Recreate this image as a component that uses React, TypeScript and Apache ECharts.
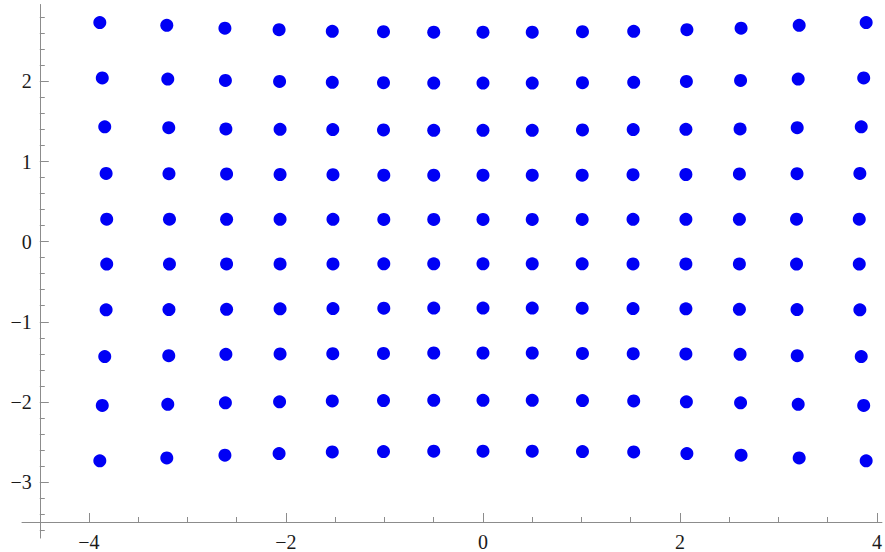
import { useEffect, useRef } from "react";
import * as echarts from "echarts";

// Axis extents (as seen in the picture)
const xRange = [-4.68, 4.05];
const yRange = [-3.7, 2.96];

// Tick values
const xTickMajor = [-4, -2, 0, 2, 4];
const xTickMinor = [-3.5, -3, -2.5, -1.5, -1, -0.5, 0.5, 1, 1.5, 2.5, 3, 3.5];
const yTickMajor = [-3, -2, -1, 0, 1, 2];
const yTickMinor = [
  -3.6, -3.4, -3.2, -2.8, -2.6, -2.4, -2.2, -1.8, -1.6, -1.4, -1.2, -0.8, -0.6,
  -0.4, -0.2, 0.2, 0.4, 0.6, 0.8, 1.2, 1.4, 1.6, 1.8, 2.2, 2.4, 2.6, 2.8,
];

// Point grid, read row by row (top to bottom), columns left to right
const xRow1 = [-3.89, -3.21, -2.62, -2.07, -1.53, -1.01, -0.5, 0, 0.5, 1.01, 1.53, 2.07, 2.62, 3.21, 3.89];
const xRow2 = [-3.865, -3.2, -2.615, -2.065, -1.53, -1.01, -0.5, 0, 0.5, 1.01, 1.53, 2.065, 2.615, 3.2, 3.865];
const xRow3 = [-3.84, -3.19, -2.61, -2.06, -1.525, -1.01, -0.5, 0, 0.5, 1.01, 1.525, 2.06, 2.61, 3.19, 3.84];
const xRow4 = [-3.826, -3.188, -2.603, -2.06, -1.523, -1.007, -0.5, 0, 0.5, 1.007, 1.523, 2.06, 2.603, 3.188, 3.826];
const xRow5 = [-3.82, -3.183, -2.603, -2.06, -1.523, -1.007, -0.5, 0, 0.5, 1.007, 1.523, 2.06, 2.603, 3.183, 3.82];
const xRow6 = [-3.82, -3.183, -2.603, -2.06, -1.523, -1.007, -0.5, 0, 0.5, 1.007, 1.523, 2.06, 2.603, 3.183, 3.82];
const xRow7 = [-3.826, -3.188, -2.603, -2.06, -1.523, -1.007, -0.5, 0, 0.5, 1.007, 1.523, 2.06, 2.603, 3.188, 3.826];
const xRow8 = [-3.84, -3.19, -2.61, -2.06, -1.525, -1.01, -0.5, 0, 0.5, 1.01, 1.525, 2.06, 2.61, 3.19, 3.84];
const xRow9 = [-3.865, -3.2, -2.615, -2.065, -1.53, -1.01, -0.5, 0, 0.5, 1.01, 1.53, 2.065, 2.615, 3.2, 3.865];
const xRow10 = [-3.89, -3.21, -2.62, -2.07, -1.53, -1.01, -0.5, 0, 0.5, 1.01, 1.53, 2.07, 2.62, 3.21, 3.89];

const yRow1 = [2.735, 2.7, 2.665, 2.645, 2.625, 2.62, 2.615, 2.615, 2.615, 2.62, 2.625, 2.645, 2.665, 2.7, 2.735];
const yRow2 = [2.044, 2.03, 2.012, 2.0, 1.988, 1.984, 1.98, 1.98, 1.98, 1.984, 1.988, 2.0, 2.012, 2.03, 2.044];
const yRow3 = [1.434, 1.423, 1.407, 1.402, 1.399, 1.395, 1.39, 1.39, 1.39, 1.395, 1.399, 1.402, 1.407, 1.423, 1.434];
const yRow4 = [0.851, 0.848, 0.845, 0.838, 0.835, 0.83, 0.829, 0.829, 0.829, 0.83, 0.835, 0.838, 0.845, 0.848, 0.851];
const yRow5 = [0.28, 0.28, 0.279, 0.278, 0.278, 0.277, 0.277, 0.277, 0.277, 0.277, 0.278, 0.278, 0.279, 0.28, 0.28];
const yRow6 = [-0.28, -0.28, -0.279, -0.278, -0.278, -0.277, -0.277, -0.277, -0.277, -0.277, -0.278, -0.278, -0.279, -0.28, -0.28];
const yRow7 = [-0.851, -0.848, -0.845, -0.838, -0.835, -0.83, -0.829, -0.829, -0.829, -0.83, -0.835, -0.838, -0.845, -0.848, -0.851];
const yRow8 = [-1.434, -1.423, -1.407, -1.402, -1.399, -1.395, -1.39, -1.39, -1.39, -1.395, -1.399, -1.402, -1.407, -1.423, -1.434];
const yRow9 = [-2.044, -2.03, -2.012, -2.0, -1.988, -1.984, -1.98, -1.98, -1.98, -1.984, -1.988, -2.0, -2.012, -2.03, -2.044];
const yRow10 = [-2.735, -2.7, -2.665, -2.645, -2.625, -2.62, -2.615, -2.615, -2.615, -2.62, -2.625, -2.645, -2.665, -2.7, -2.735];

const xRows = [xRow1, xRow2, xRow3, xRow4, xRow5, xRow6, xRow7, xRow8, xRow9, xRow10];
const yRows = [yRow1, yRow2, yRow3, yRow4, yRow5, yRow6, yRow7, yRow8, yRow9, yRow10];

const AXIS_COLOR = "#8c8c8c";
const LABEL_FONT = "Liberation Serif";

const fmt = (v: number) => (v < 0 ? "\u2212" + Math.abs(v) : String(v));

export default function App() {
  const ref = useRef<HTMLDivElement>(null);

  useEffect(() => {
    if (!ref.current) return;
    const chart = echarts.init(ref.current, undefined, { renderer: "svg" });

    const points: number[][] = [];
    xRows.forEach((xs, r) => {
      xs.forEach((x, i) => points.push([x, yRows[r][i]]));
    });

    const gridLeft = 22;
    const gridTop = 4.5;
    const gridW = 863;
    const gridH = 535;
    const pxPerX = gridW / (xRange[1] - xRange[0]);
    const pxPerY = gridH / (yRange[1] - yRange[0]);
    const xAxisOffset = -(-3.5 - yRange[0]) * pxPerY;
    const yAxisOffset = -(-4.5 - xRange[0]) * pxPerX;

    const baseX = {
      type: "value",
      min: xRange[0],
      max: xRange[1],
      position: "bottom",
      offset: xAxisOffset,
      splitLine: { show: false },
    };
    const baseY = {
      type: "value",
      min: yRange[0],
      max: yRange[1],
      position: "left",
      offset: yAxisOffset,
      splitLine: { show: false },
    };

    chart.setOption({
      animation: false,
      backgroundColor: "#ffffff",
      grid: { left: gridLeft, top: gridTop, width: gridW, height: gridH, containLabel: false },
      xAxis: [
        {
          ...baseX,
          axisLine: { show: true, onZero: false, lineStyle: { color: AXIS_COLOR, width: 1 } },
          axisTick: { show: true, inside: true, length: 9, customValues: xTickMajor, lineStyle: { color: AXIS_COLOR, width: 1 } },
          axisLabel: {
            show: true,
            customValues: xTickMajor,
            formatter: fmt,
            margin: 10,
            fontFamily: LABEL_FONT,
            fontSize: 20,
            color: "#1a1a1a",
          },
        },
        {
          ...baseX,
          axisLine: { show: false, onZero: false },
          axisTick: { show: true, inside: true, length: 5, customValues: xTickMinor, lineStyle: { color: AXIS_COLOR, width: 1 } },
          axisLabel: { show: false },
        },
      ],
      yAxis: [
        {
          ...baseY,
          axisLine: { show: true, onZero: false, lineStyle: { color: AXIS_COLOR, width: 1 } },
          axisTick: { show: true, inside: true, length: 9, customValues: yTickMajor, lineStyle: { color: AXIS_COLOR, width: 1 } },
          axisLabel: {
            show: true,
            customValues: yTickMajor,
            formatter: fmt,
            margin: 8,
            fontFamily: LABEL_FONT,
            fontSize: 20,
            color: "#1a1a1a",
          },
        },
        {
          ...baseY,
          axisLine: { show: false, onZero: false },
          axisTick: { show: true, inside: true, length: 5, customValues: yTickMinor, lineStyle: { color: AXIS_COLOR, width: 1 } },
          axisLabel: { show: false },
        },
      ],
      series: [
        {
          type: "scatter",
          xAxisIndex: 0,
          yAxisIndex: 0,
          data: points,
          symbol: "circle",
          symbolSize: 13,
          itemStyle: { color: "#0000f5", opacity: 1 },
          emphasis: { disabled: true },
        },
      ],
    });

    return () => chart.dispose();
  }, []);

  return (
    <div
      ref={ref}
      style={{ position: "absolute", left: 0, top: 0, width: 885, height: 552 }}
    />
  );
}
